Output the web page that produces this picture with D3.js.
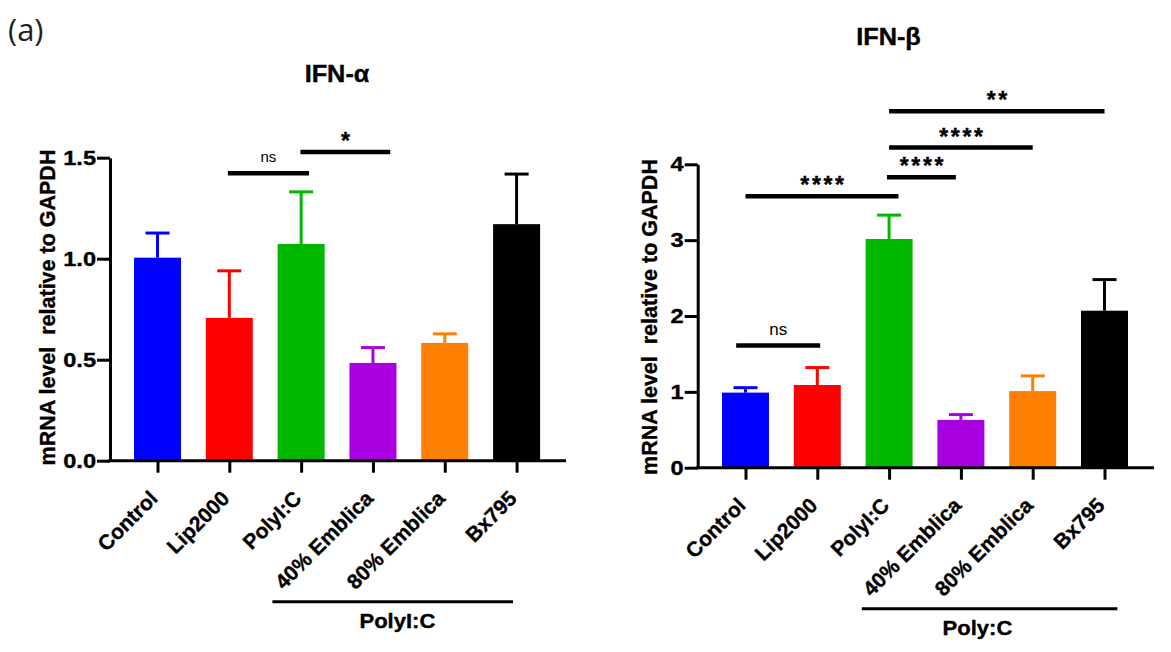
<!DOCTYPE html>
<html><head><meta charset="utf-8">
<script src="https://cdn.jsdelivr.net/npm/d3@7/dist/d3.min.js"></script>
<style>body{margin:0;background:#fff} svg{display:block}</style>
</head><body>
<svg id="c" width="1171" height="652"></svg>
<script>
// ---- data ----
const categories = ["Control", "Lip2000", "PolyI:C", "40% Emblica", "80% Emblica", "Bx795"];
const colors = ["#0000FF", "#FF0000", "#00B800", "#A800E0", "#FF8000", "#000000"];

const alphaMean = [1.005, 0.707, 1.073, 0.484, 0.583, 1.171];
const alphaSD   = [0.122, 0.233, 0.258, 0.076, 0.045, 0.248];
const alphaTicks = [0, 0.5, 1.0, 1.5];
const alphaSig = [
  {label: "ns", from: 0.98, to: 2.11, y: 1.423},
  {label: "*",  from: 1.99, to: 3.24, y: 1.528}
];

const betaMean = [0.99, 1.09, 3.015, 0.63, 1.01, 2.07];
const betaSD   = [0.065, 0.23, 0.315, 0.07, 0.20, 0.41];
const betaTicks = [0, 1, 2, 3, 4];
const betaSig = [
  {label: "ns",   from: -0.13, to: 1.04, y: 1.61},
  {label: "****", from: 0.0,   to: 2.13, y: 3.58},
  {label: "****", from: 1.97,  to: 2.93, y: 3.83},
  {label: "****", from: 2.0,   to: 4.0,  y: 4.22},
  {label: "**",   from: 2.0,   to: 5.0,  y: 4.70}
];

const yLabel = "mRNA level  relative to GAPDH";

// ---- layout ----
const FONT = "'Liberation Sans', Arial, Helvetica, sans-serif";
const layoutA = {axisX: 110, y0: 460.7, yTop: 157.7, x0: 157.5, x1: 516.6, axisEnd: 566,
  title: "IFN-α", titleX: 337, titleY: 82, ylabX: 55, ylabY: 307.5,
  group: "PolyI:C", groupFrom: 1.6, groupTo: 4.95, groupText: 3.34, nsSize: 15, fmt: d3.format(".1f")};
const layoutB = {axisX: 697.7, y0: 467.7, yTop: 164.3, x0: 745.5, x1: 1104.5, axisEnd: 1154,
  title: "IFN-β", titleX: 888.5, titleY: 45, ylabX: 656.7, ylabY: 317,
  group: "Poly:C", groupFrom: 1.62, groupTo: 5.18, groupText: 3.23, nsSize: 17, fmt: d3.format("d")};

const svg = d3.select("#c");

svg.append("text").attr("x", 8).attr("y", 41)
  .attr("font-family", "'Open Sans', 'DejaVu Sans', sans-serif").attr("font-size", 31)
  .attr("fill", "#222").text("(a)");

function bold(sel) {
  return sel.attr("font-family", FONT).attr("font-weight", "bold").attr("fill", "#000")
    .attr("stroke", "#000").attr("stroke-width", 0.35);
}

function drawChart(L, means, sds, ticks, sigs) {
  const g = svg.append("g");
  const y = d3.scaleLinear().domain([0, d3.max(ticks)]).range([L.y0, L.yTop]);
  const x = d3.scalePoint().domain(categories).range([L.x0, L.x1]);
  const xi = d3.scaleLinear().domain([0, categories.length - 1]).range([L.x0, L.x1]);
  const bw = 47, cap = 12;

  // bars
  g.selectAll("rect.bar").data(categories).join("rect").attr("class", "bar")
    .attr("x", d => x(d) - bw / 2).attr("width", bw)
    .attr("y", (d, i) => y(means[i])).attr("height", (d, i) => y(0) - y(means[i]))
    .attr("fill", (d, i) => colors[i]);

  // error bars (upper)
  const eb = g.selectAll("g.err").data(categories).join("g").attr("class", "err")
    .attr("stroke", (d, i) => colors[i]).attr("stroke-width", 3);
  eb.append("line").attr("x1", d => x(d)).attr("x2", d => x(d))
    .attr("y1", (d, i) => y(means[i])).attr("y2", (d, i) => y(means[i] + sds[i]));
  eb.append("line").attr("x1", d => x(d) - cap).attr("x2", d => x(d) + cap)
    .attr("y1", (d, i) => y(means[i] + sds[i])).attr("y2", (d, i) => y(means[i] + sds[i]));

  // y axis
  const ya = g.append("g").attr("transform", `translate(${L.axisX},0)`)
    .call(d3.axisLeft(y).tickValues(ticks).tickFormat(L.fmt).tickSize(13).tickSizeOuter(0).tickPadding(1));
  ya.select(".domain").attr("stroke-width", 3);
  ya.selectAll(".tick line").attr("stroke-width", 3);
  const sx = 1.18;
  bold(ya.selectAll(".tick text")).attr("font-size", 20)
    .each(function () {
      const t = d3.select(this);
      const xv = +t.attr("x");
      t.attr("x", xv / sx).attr("transform", `scale(${sx},1)`);
    });

  // x axis baseline
  g.append("line").attr("x1", L.axisX - 1.5).attr("x2", L.axisEnd)
    .attr("y1", L.y0).attr("y2", L.y0).attr("stroke", "#000").attr("stroke-width", 3);

  const xa = g.append("g").attr("transform", `translate(0,${L.y0})`)
    .call(d3.axisBottom(x).tickSize(12).tickSizeOuter(0));
  xa.select(".domain").remove();
  xa.selectAll(".tick line").attr("stroke-width", 3);
  bold(xa.selectAll(".tick text"))
    .attr("x", 0).attr("y", 0).attr("dy", 0)
    .attr("text-anchor", "end")
    .attr("transform", "translate(1,39) rotate(-45)")
    .attr("font-size", 21);

  // title
  bold(g.append("text")).attr("transform", `translate(${L.titleX},${L.titleY}) scale(1.1,1)`)
    .attr("text-anchor", "middle").attr("font-size", 23).text(L.title);

  // y label
  bold(g.append("text")).attr("transform", `translate(${L.ylabX},${L.ylabY}) rotate(-90)`)
    .attr("text-anchor", "middle").attr("font-size", 21.5)
    .attr("xml:space", "preserve").style("white-space", "pre").text(yLabel);

  // significance bars
  const sg = g.selectAll("g.sig").data(sigs).join("g").attr("class", "sig");
  sg.append("line").attr("x1", d => xi(d.from)).attr("x2", d => xi(d.to))
    .attr("y1", d => y(d.y)).attr("y2", d => y(d.y))
    .attr("stroke", "#000").attr("stroke-width", 4.5);
  sg.append("text")
    .attr("x", d => (xi(d.from) + xi(d.to)) / 2 + (d.label === "ns" ? 0 : 1.5))
    .attr("y", d => d.label === "ns" ? y(d.y) - 11 : y(d.y) - 3)
    .attr("text-anchor", "middle").attr("font-family", FONT)
    .attr("font-weight", d => d.label === "ns" ? "normal" : "bold")
    .attr("font-size", d => d.label === "ns" ? L.nsSize : 23)
    .attr("letter-spacing", d => d.label === "ns" ? 0 : 2.6)
    .attr("stroke", "#000").attr("stroke-width", d => d.label === "ns" ? 0 : 0.4)
    .text(d => d.label);

  // group bracket
  const gy = L.y0 + 141;
  g.append("line").attr("x1", xi(L.groupFrom)).attr("x2", xi(L.groupTo))
    .attr("y1", gy).attr("y2", gy).attr("stroke", "#000").attr("stroke-width", 3);
  bold(g.append("text")).attr("transform", `translate(${xi(L.groupText)},${L.y0 + 167}) scale(1.13,1)`)
    .attr("text-anchor", "middle").attr("font-size", 19.5).text(L.group);
}

drawChart(layoutA, alphaMean, alphaSD, alphaTicks, alphaSig);
drawChart(layoutB, betaMean, betaSD, betaTicks, betaSig);
</script>
</body></html>
